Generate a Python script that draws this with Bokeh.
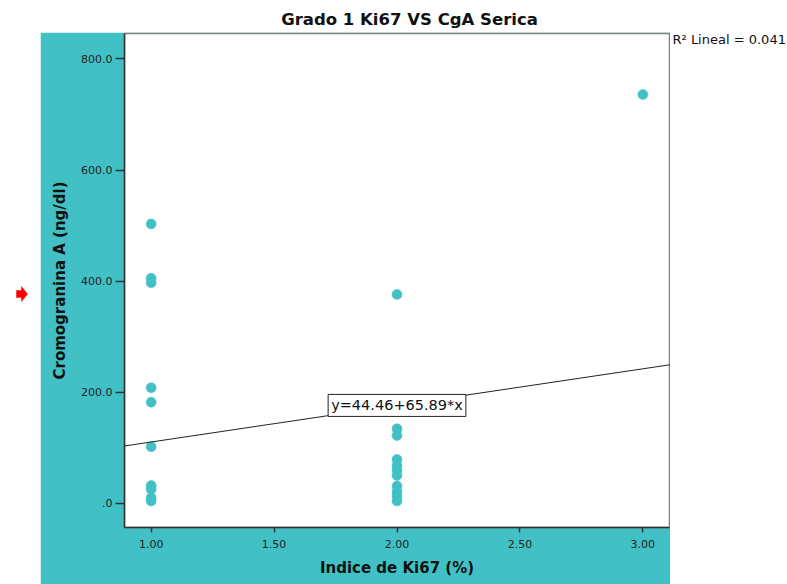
from bokeh.plotting import figure
from bokeh.models import Range1d, FixedTicker, Label, Slope
from bokeh.layouts import column, row
from bokeh.core.properties import value
from bokeh.embed import file_html
from bokeh.resources import INLINE

# ---- data ----
ki67_1 = [1, 1, 1, 1, 1, 1, 1, 1, 1, 1]
cga_1 = [503, 405, 397, 208, 182, 102, 32, 25, 10, 4]
ki67_2 = [2, 2, 2, 2, 2, 2, 2, 2, 2, 2, 2]
cga_2 = [376, 134, 122, 79, 68, 59, 50, 31, 21, 13, 4]
ki67_3 = [3]
cga_3 = [736]
intercept = 44.46
slope = 65.89
r2 = 0.041

x_ticks = [1.0, 1.5, 2.0, 2.5, 3.0]
x_tick_labels = ["1.00", "1.50", "2.00", "2.50", "3.00"]
y_ticks = [0, 200, 400, 600, 800]
y_tick_labels = [".0", "200.0", "400.0", "600.0", "800.0"]

title_text = "Grado 1 Ki67 VS CgA Serica"
x_label = "Indice de Ki67 (%)"
y_label = "Cromogranina A (ng/dl)"

xs = ki67_1 + ki67_2 + ki67_3
ys = cga_1 + cga_2 + cga_3

TEAL = "#41C1C5"
FONT = "DejaVu Sans"

W, H = 787, 584
TOP_H = 32
LEFT_W = 40
MAIN_W = 630
RIGHT_W = W - LEFT_W - MAIN_W
BODY_H = H - TOP_H
B_TOP, B_BOTTOM = 1, 57


def blank(w, h, bt=0, bb=0):
    f = figure(width=w, height=h, output_backend="svg", toolbar_location=None,
               x_range=Range1d(0, w), y_range=Range1d(h - bb, bt),
               x_axis_type=None, y_axis_type=None,
               min_border=0, min_border_left=0, min_border_right=0,
               min_border_top=bt, min_border_bottom=bb)
    f.outline_line_color = None
    f.xgrid.visible = False
    f.ygrid.visible = False
    f.background_fill_color = "white"
    f.border_fill_color = "white"
    return f


# ---- title strip (above the teal panel) ----
top = blank(LEFT_W + MAIN_W, TOP_H)
top.text(x=[409], y=[19], text=[title_text], text_align="center",
         text_baseline="middle", text_font=value(FONT),
         text_font_size="16.5px", text_font_style="bold", text_color="#111111")

# ---- left strip with the red arrow ----
left = blank(LEFT_W, BODY_H, B_TOP, B_BOTTOM)
left.patch(x=[16, 21, 21, 27, 21, 21, 16],
           y=[258, 258, 254, 261.5, 269, 265, 265],
           fill_color="#FF0000", line_color="#FF0000", line_width=0.5)

# ---- right strip with R² ----
right = blank(RIGHT_W, H)
right.text(x=[2], y=[39], text=["R\u00b2 Lineal = %.3f" % r2],
           text_align="left", text_baseline="middle",
           text_font=value(FONT), text_font_size="13px", text_color="#111111")

# ---- main scatter ----
p = figure(width=MAIN_W, height=BODY_H, output_backend="svg",
           toolbar_location=None,
           x_range=Range1d(0.8916, 3.1084), y_range=Range1d(-43.6, 845.9),
           min_border_left=84, min_border_right=1, min_border_top=B_TOP,
           min_border_bottom=B_BOTTOM)
p.border_fill_color = TEAL
p.background_fill_color = "white"
p.outline_line_color = "#808080"
p.outline_line_width = 1.5
p.xgrid.visible = False
p.ygrid.visible = False

for ax in (p.xaxis[0], p.yaxis[0]):
    ax.axis_line_color = "#333333"
    ax.axis_line_width = 1.5
    ax.major_tick_line_color = "#333333"
    ax.major_tick_line_width = 1.5
    ax.major_tick_in = 0
    ax.minor_tick_line_color = None
    ax.major_label_text_font = FONT
    ax.major_label_text_font_size = "11px"
    ax.major_label_text_color = "#222222"
    ax.axis_label_text_font = FONT
    ax.axis_label_text_font_size = "15px"
    ax.axis_label_text_font_style = "bold"
    ax.axis_label_text_color = "#111111"

p.xaxis.ticker = FixedTicker(ticks=x_ticks)
p.xaxis.major_label_overrides = dict(zip(x_ticks, x_tick_labels))
p.xaxis.major_tick_out = 5
p.xaxis.major_label_standoff = 7
p.xaxis.axis_label = x_label
p.xaxis.axis_label_standoff = 8

p.yaxis.ticker = FixedTicker(ticks=y_ticks)
p.yaxis.major_label_overrides = dict(zip(y_ticks, y_tick_labels))
p.yaxis.major_tick_out = 9
p.yaxis.major_label_standoff = 3
p.yaxis.axis_label = y_label
p.yaxis.axis_label_standoff = 9

# regression line from the fitted equation
p.add_layout(Slope(gradient=slope, y_intercept=intercept,
                   line_color="#222222", line_width=1))

p.scatter(xs, ys, size=10, fill_color=TEAL, line_color=TEAL, line_width=0.5)

x_mid = 2.0
p.add_layout(Label(x=x_mid, y=intercept + slope * x_mid,
                   text="y=%.2f+%.2f*x" % (intercept, slope),
                   text_align="center", text_baseline="middle",
                   text_font=FONT, text_font_size="14.5px", text_color="#111111",
                   background_fill_color="white", background_fill_alpha=1,
                   border_line_color="#222222", border_line_width=1,
                   padding=3))

layout = row(column(top, row(left, p, spacing=0), spacing=0), right, spacing=0)

open("out.html", "w").write(file_html(layout, INLINE))
